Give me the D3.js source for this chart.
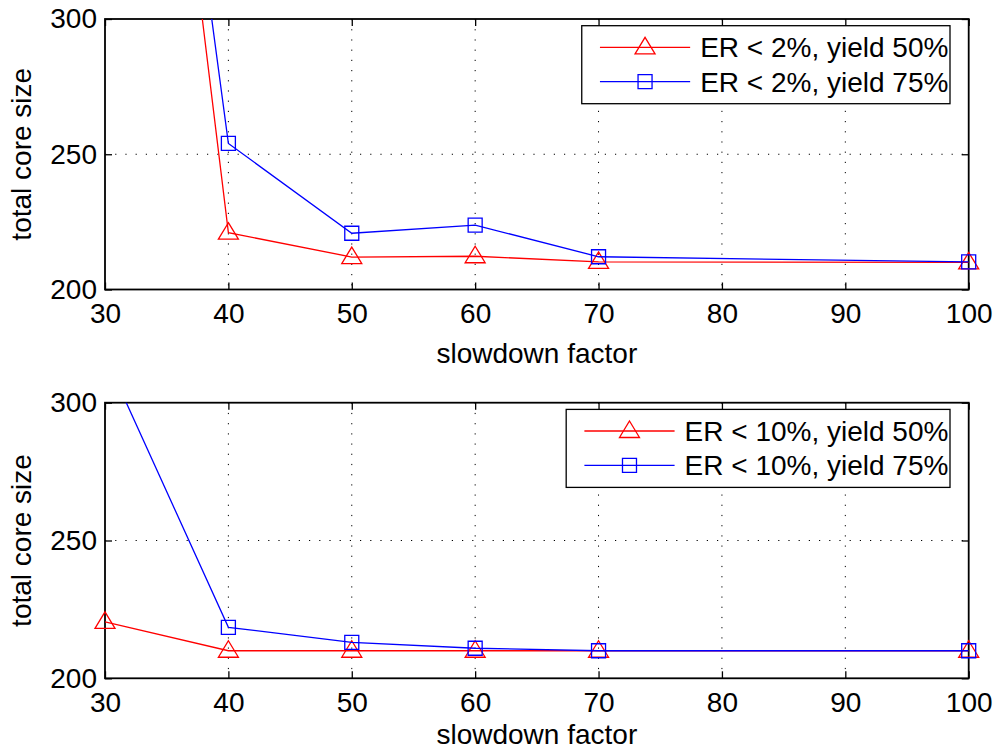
<!DOCTYPE html>
<html>
<head>
<meta charset="utf-8">
<script src="https://cdn.jsdelivr.net/npm/d3@7"></script>
<style>
  body { margin: 0; background: #fff; }
  text { font-family: "Liberation Sans", Arial, Helvetica, sans-serif; }
</style>
</head>
<body>
<svg id="chart" width="995" height="751"></svg>
<script>
// data
const slowdown = [30, 40, 50, 60, 70, 100];
const xTicks = [30, 40, 50, 60, 70, 80, 90, 100];
const yTicks = [200, 250, 300];

const top50 = [595, 221, 212, 212.3, 210.2, 210];
const top75 = [595, 254, 220.8, 223.8, 212.1, 210.2];
const bottom50 = [220.5, 210, 210, 210, 210, 210];
const bottom75 = [317, 218.5, 213, 210.9, 210, 210];

const topLabels = ["ER < 2%, yield 50%", "ER < 2%, yield 75%"];
const bottomLabels = ["ER < 10%, yield 50%", "ER < 10%, yield 75%"];

const fontSize = "28px";
const svg = d3.select("#chart");

const left = 105, right = 968.7;

function drawPanel(id, y0, y1, series, labels, xlabelOffset) {
    const x = d3.scaleLinear().domain([30, 100]).range([left, right]);
    const y = d3.scaleLinear().domain([200, 300]).range([y1, y0]);
    const g = svg.append("g");

    // clip for the lines
    svg.append("defs").append("clipPath")
        .attr("id", "clip" + id)
        .append("rect")
        .attr("x", left).attr("y", y0)
        .attr("width", right - left).attr("height", y1 - y0);

    // dotted grid
    g.selectAll(".gx")
        .data(xTicks.slice(1, -1))
        .enter().append("line")
        .attr("x1", d => x(d)).attr("x2", d => x(d))
        .attr("y1", y0).attr("y2", y1)
        .attr("stroke", "#000").attr("stroke-width", 1)
        .attr("stroke-dasharray", "1.2,9");
    g.selectAll(".gy")
        .data(yTicks.slice(1, -1))
        .enter().append("line")
        .attr("x1", left).attr("x2", right)
        .attr("y1", d => y(d)).attr("y2", d => y(d))
        .attr("stroke", "#000").attr("stroke-width", 1)
        .attr("stroke-dasharray", "1.2,9");

    // axes (inward ticks, MATLAB style)
    g.append("g").attr("transform", `translate(0,${y1})`)
        .call(d3.axisBottom(x).tickValues(xTicks).tickSize(-7).tickSizeOuter(0).tickPadding(14));
    g.append("g").attr("transform", `translate(0,${y0})`)
        .call(d3.axisTop(x).tickValues(xTicks).tickSize(-7).tickSizeOuter(0).tickFormat(""));
    g.append("g").attr("transform", `translate(${left},0)`)
        .call(d3.axisLeft(y).tickValues(yTicks).tickSize(-7).tickSizeOuter(0).tickPadding(8));
    g.append("g").attr("transform", `translate(${right},0)`)
        .call(d3.axisRight(y).tickValues(yTicks).tickSize(-7).tickSizeOuter(0).tickFormat(""));

    g.selectAll(".domain").remove();
    g.selectAll(".tick line").attr("stroke", "#000").attr("stroke-width", 1.3);
    g.selectAll(".tick text")
        .attr("fill", "#000")
        .style("font-size", fontSize)
        .style("font-family", "'Liberation Sans', Arial, sans-serif");

    // box
    g.append("rect")
        .attr("x", left).attr("y", y0)
        .attr("width", right - left).attr("height", y1 - y0)
        .attr("fill", "none").attr("stroke", "#000").attr("stroke-width", 1.8);

    // axis labels
    g.append("text")
        .attr("x", (left + right) / 2).attr("y", y1 + xlabelOffset)
        .attr("text-anchor", "middle")
        .style("font-size", fontSize)
        .text("slowdown factor");
    g.append("text")
        .attr("transform", `translate(31,${(y0 + y1) / 2}) rotate(-90)`)
        .attr("text-anchor", "middle")
        .style("font-size", fontSize)
        .text("total core size");

    // series
    const line = d3.line().x((d, i) => x(slowdown[i])).y(d => y(d));
    series.forEach(s => {
        g.append("path")
            .datum(s.values)
            .attr("clip-path", `url(#clip${id})`)
            .attr("d", line)
            .attr("fill", "none")
            .attr("stroke", s.color)
            .attr("stroke-width", 1.3);

        const pts = s.values.map((v, i) => [slowdown[i], v]).filter(p => p[1] <= 300);
        g.selectAll(null)
            .data(pts)
            .enter().append("path")
            .attr("transform", d => `translate(${x(d[0])},${y(d[1])})`)
            .attr("d", s.marker)
            .attr("fill", "none")
            .attr("stroke", s.color)
            .attr("stroke-width", 1.3);
    });

    // legend
    const lg = g.append("g");
    const rowY = [y0 + 28.3, y0 + 62.7];
    const box = lg.append("rect")
        .attr("y", y0 + 6.7).attr("height", 78)
        .attr("fill", "#fff").attr("stroke", "#000").attr("stroke-width", 1.3);
    let maxW = 0;
    const items = lg.selectAll(".item")
        .data(series)
        .enter().append("g");
    items.append("text")
        .attr("y", (d, i) => rowY[i])
        .attr("dy", "0.35em")
        .style("font-size", fontSize)
        .text((d, i) => labels[i])
        .each(function () { maxW = Math.max(maxW, this.getComputedTextLength()); });
    const bx = right - 18.7 - (maxW + 120);
    box.attr("x", bx).attr("width", maxW + 120);
    items.select("text").attr("x", bx + 118.4);
    items.append("line")
        .attr("x1", bx + 18.2).attr("x2", bx + 108.4)
        .attr("y1", (d, i) => rowY[i]).attr("y2", (d, i) => rowY[i])
        .attr("stroke", d => d.color).attr("stroke-width", 1.3);
    items.append("path")
        .attr("transform", (d, i) => `translate(${bx + 63.3},${rowY[i]})`)
        .attr("d", d => d.marker)
        .attr("fill", "none")
        .attr("stroke", d => d.color)
        .attr("stroke-width", 1.3);
}

const triangle = "M0,-10L10,6.5L-10,6.5Z";
const square = "M-7,-7H7V7H-7Z";

drawPanel("top", 19, 289.5, [
    { values: top50, color: "#ff0000", marker: triangle },
    { values: top75, color: "#0000ff", marker: square }
], topLabels, 73);

drawPanel("bottom", 402.7, 678.3, [
    { values: bottom50, color: "#ff0000", marker: triangle },
    { values: bottom75, color: "#0000ff", marker: square }
], bottomLabels, 66);
</script>
</body>
</html>
